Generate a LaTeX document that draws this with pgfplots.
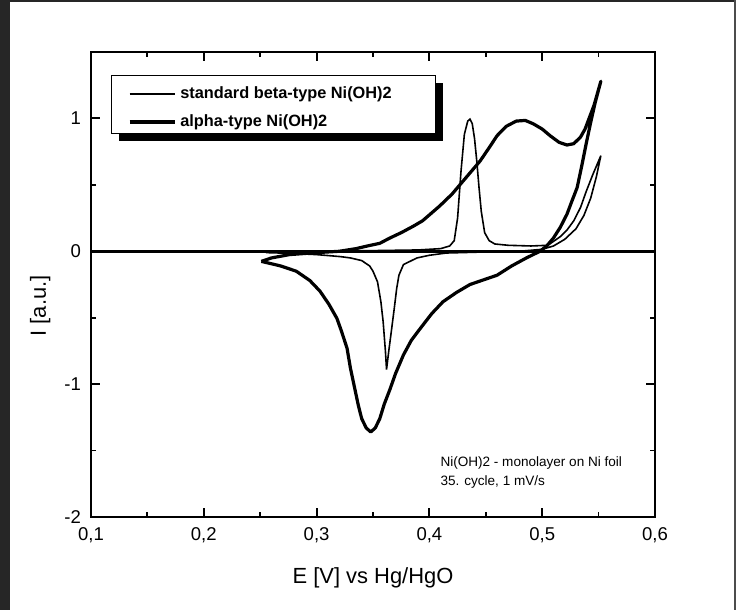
\documentclass[border=0pt]{standalone}
\usepackage{pgfplots}
\pgfplotsset{compat=1.18}
\usepackage{fontspec}
\setmainfont{Liberation Sans}
\usetikzlibrary{shadows}

\begin{document}
\begin{tikzpicture}
\useasboundingbox (0,0) rectangle (368bp,305bp);
% scan edges
\fill[black!85] (0,0) rectangle (5bp,305bp);
\fill[black!85] (0,304bp) rectangle (368bp,305bp);
\fill[black!70] (367bp,0) rectangle (368bp,305bp);

\begin{axis}[
    at={(45.5bp,46.5bp)}, anchor=south west,
    scale only axis,
    width=282bp, height=232.5bp,
    xmin=0.1, xmax=0.6,
    ymin=-2, ymax=1.5,
    xtick={0.1,0.2,0.3,0.4,0.5,0.6},
    xticklabels={{0,1},{0,2},{0,3},{0,4},{0,5},{0,6}},
    ytick={-2,-1,0,1},
    yticklabels={{-2},{-1},{0},{1}},
    minor x tick num=1,
    minor y tick num=1,
    tick align=inside,
    major tick length=4.5bp,
    minor tick length=2.5bp,
    every major tick/.append style={line width=1bp, black},
    every minor tick/.append style={line width=0.9bp, black},
    axis line style={line width=1.3bp},
    tick label style={font=\fontsize{9.3}{11}\selectfont},
    xticklabel style={yshift=-2bp},
    yticklabel style={xshift=-1.5bp},
    xlabel={E [V] vs Hg/HgO},
    ylabel={I [a.u.]},
    label style={font=\fontsize{11}{13}\selectfont},
    xlabel style={at={(axis description cs:0.5,-0.131)}, anchor=center},
    ylabel style={at={(axis description cs:-0.09,0.454)}, anchor=center, rotate=0},
    legend style={at={(axis description cs:0.065,0.935)}, anchor=north west,
        draw=none, fill=none, inner sep=0pt, row sep=2.6bp,
        font=\fontsize{8.2}{9.5}\selectfont\bfseries,
        nodes={inner sep=2bp}},
    legend cell align={left},
    legend image code/.code={\draw[#1] (0bp,0bp) -- (22.5bp,0bp);},
]

% legend box with shadow
\draw[line width=0.5bp, fill=white,
      drop shadow={shadow xshift=3.5bp, shadow yshift=-4bp, fill=black, opacity=1}]
    (axis description cs:0.0372,0.9505) rectangle (axis description cs:0.6117,0.8258);

% zero line
\addplot[black, line width=1.3bp, forget plot] coordinates {(0.1,0) (0.6,0)};

% standard beta-type Ni(OH)2 (thin)
\addplot[black, line width=0.8bp] coordinates {
    (0.255,-0.01) (0.30,0.0) (0.35,0.005) (0.39,0.01) (0.41,0.02) (0.418,0.04)
    (0.422,0.08) (0.425,0.25) (0.428,0.60) (0.431,0.88) (0.434,0.98) (0.436,0.995)
    (0.438,0.96) (0.440,0.85) (0.442,0.68) (0.444,0.48) (0.446,0.30) (0.449,0.14)
    (0.453,0.08) (0.458,0.055) (0.47,0.045) (0.49,0.04) (0.505,0.045) (0.516,0.11)
    (0.522,0.16) (0.528,0.23) (0.534,0.33) (0.539,0.45) (0.545,0.58) (0.552,0.72)
    (0.548,0.56) (0.543,0.40) (0.537,0.27) (0.53,0.17) (0.52,0.09) (0.51,0.04)
    (0.50,0.015) (0.48,0.0) (0.45,-0.005) (0.415,-0.013) (0.40,-0.03) (0.389,-0.05)
    (0.377,-0.10) (0.373,-0.18) (0.371,-0.28) (0.369,-0.42) (0.3666,-0.58)
    (0.364,-0.75) (0.362,-0.89) (0.361,-0.75) (0.359,-0.53) (0.357,-0.38)
    (0.354,-0.23) (0.350,-0.15) (0.347,-0.11) (0.34,-0.07) (0.33,-0.05)
    (0.321,-0.04) (0.30,-0.025) (0.276,-0.015) (0.255,-0.01)
};
\addlegendentry{standard beta-type Ni(OH)2}

% alpha-type Ni(OH)2 (thick)
\addplot[black, line width=1.6bp, line join=round] coordinates {
    (0.251,-0.076) (0.26,-0.05) (0.276,-0.025) (0.30,-0.01) (0.32,0.0) (0.335,0.02)
    (0.345,0.04) (0.356,0.06) (0.365,0.10) (0.375,0.14) (0.386,0.19) (0.394,0.23)
    (0.409,0.34) (0.420,0.43) (0.430,0.53) (0.445,0.68) (0.453,0.78) (0.46,0.87)
    (0.468,0.94) (0.477,0.98) (0.485,0.985) (0.492,0.96) (0.50,0.92) (0.507,0.87)
    (0.515,0.82) (0.522,0.80) (0.528,0.81) (0.534,0.86) (0.538,0.92) (0.542,1.01)
    (0.546,1.10) (0.550,1.22) (0.552,1.28)
    (0.547,1.12) (0.543,0.97) (0.539,0.81) (0.535,0.64) (0.531,0.48) (0.526,0.37)
    (0.522,0.28) (0.516,0.18) (0.51,0.10) (0.504,0.04) (0.498,0.0) (0.486,-0.05)
    (0.473,-0.11) (0.46,-0.18) (0.448,-0.215) (0.436,-0.25) (0.424,-0.31)
    (0.412,-0.38) (0.402,-0.47) (0.392,-0.58) (0.384,-0.67) (0.377,-0.78)
    (0.370,-0.92) (0.365,-1.04) (0.36,-1.15) (0.356,-1.26) (0.352,-1.33)
    (0.348,-1.36) (0.344,-1.33) (0.340,-1.26) (0.337,-1.16) (0.334,-1.04)
    (0.330,-0.88) (0.327,-0.73) (0.322,-0.60) (0.318,-0.505) (0.311,-0.40)
    (0.303,-0.30) (0.294,-0.22) (0.282,-0.15) (0.268,-0.11) (0.251,-0.076)
};
\addlegendentry{alpha-type Ni(OH)2}

\node[anchor=west, font=\fontsize{6.8}{8}\selectfont, inner sep=0pt]
    at (axis description cs:0.619,0.116) {Ni(OH)2 - monolayer on Ni foil};
\node[anchor=west, font=\fontsize{6.8}{8}\selectfont, inner sep=0pt]
    at (axis description cs:0.619,0.075) {35. cycle, 1 mV/s};

\end{axis}
\end{tikzpicture}
\end{document}
